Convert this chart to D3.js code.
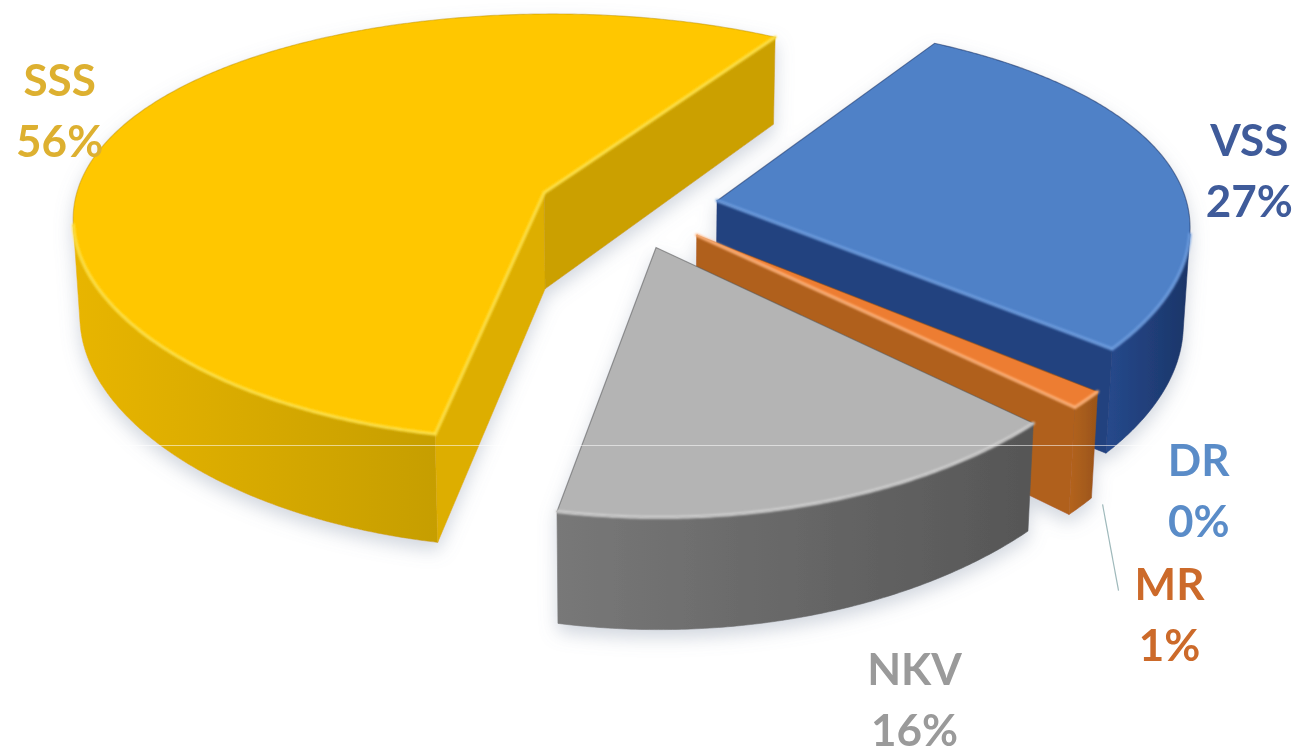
<!DOCTYPE html>
<html>
<head>
<meta charset="utf-8">
<script src="https://cdn.jsdelivr.net/npm/d3@7"></script>
<style>
  html, body { margin: 0; padding: 0; background: #ffffff; }
  svg { display: block; }
</style>
</head>
<body>
<svg id="chart" width="1299" height="756"></svg>
<script>
// ---- data ----
const categories = ["VSS", "DR", "MR", "NKV", "SSS"];
const shares = [27.2, 0, 1.2, 15.9, 55.7];

// ---- styles ----
const topColors   = ["#4F81C7", "#5B9BD5", "#ED7D31", "#B4B4B4", "#FFC700"];
const wallLight   = ["#26498C", "#3A78B5", "#B4641F", "#787878", "#E8B500"];
const wallDark    = ["#1B3568", "#2A5C8E", "#9A5418", "#565656", "#C69E00"];
const leadFace    = ["#22427F", "#3A78B5", "#C06A22", "#8A8A8A", "#DDAE00"]; // face on the slice's first edge
const trailFace   = ["#22427F", "#3A78B5", "#B0601C", "#8A8A8A", "#CBA000"]; // face on the slice's last edge
const rimLight    = ["#6E9EE0", "#8DBBE8", "#FFB27A", "#D0D0D0", "#FFE24A"];
const labelColors = ["#3F5B9A", "#5A8CC8", "#CC6A2A", "#9A9A9A", "#DDB030"];

// ---- 3D view of the pie ----
const view = {
  cx: 628, cy: 207.4,      // screen position of the pie centre (top plane)
  R: 478, H: 110,          // radius and thickness
  explode: 92,             // distance each slice is pulled out
  kx: 0.985,               // horizontal aspect
  sinA: 0.4435,            // sine of the elevation angle
  px: 0.000248, py: 0.000376, // perspective strength (x, y)
  startDeg: 31.5           // angle of first slice
};
const cosA = Math.sqrt(1 - view.sinA * view.sinA);

function project(x, z, h) {
  const D = z * cosA + h * view.sinA;        // depth towards the viewer
  const w = z * view.sinA - h * cosA;        // screen-down offset
  return [view.cx + view.kx * x / (1 - D * view.px),
          view.cy + w / (1 - D * view.py)];
}

function signedArea(pts) {
  let s = 0;
  for (let i = 0; i < pts.length; i++) {
    const a = pts[i], b = pts[(i + 1) % pts.length];
    s += a[0] * b[1] - b[0] * a[1];
  }
  return s;
}

const svg = d3.select("#chart");
const defs = svg.append("defs");

const shadow = defs.append("filter").attr("id", "pieShadow")
  .attr("x", "-10%").attr("y", "-10%").attr("width", "120%").attr("height", "130%");
shadow.append("feDropShadow").attr("dx", 0).attr("dy", 8).attr("stdDeviation", 9)
  .attr("flood-color", "#7d8aa3").attr("flood-opacity", 0.35);

const soft = defs.append("filter").attr("id", "softEdge")
  .attr("x", "-5%").attr("y", "-5%").attr("width", "110%").attr("height", "110%");
soft.append("feGaussianBlur").attr("stdDeviation", 1.1);

categories.forEach((c, i) => {
  const g = defs.append("linearGradient").attr("id", "wall" + i)
    .attr("x1", 0).attr("x2", 1).attr("y1", 0).attr("y2", 0);
  g.append("stop").attr("offset", "0%").attr("stop-color", wallLight[i]);
  g.append("stop").attr("offset", "100%").attr("stop-color", wallDark[i]);
});

const start = view.startDeg * Math.PI / 180;
const pie = d3.pie().sort(null).value(d => d)
  .startAngle(start).endAngle(start + 2 * Math.PI);
const arcs = pie(shares);
const total = d3.sum(shares);
const pct = d3.format(".0%");
const line = d3.line();

const slices = arcs.map((a, i) => {
  const mid = (a.startAngle + a.endAngle) / 2;
  const ox = view.explode * Math.sin(mid), oz = -view.explode * Math.cos(mid);
  const rimPt = (t, h, r = view.R) => project(r * Math.sin(t) + ox, -r * Math.cos(t) + oz, h);
  const n = Math.max(2, Math.ceil((a.endAngle - a.startAngle) / (Math.PI / 360)));
  const angles = d3.range(n + 1).map(k => a.startAngle + (a.endAngle - a.startAngle) * k / n);
  const topRim = angles.map(t => rimPt(t, 0));
  const botRim = angles.map(t => rimPt(t, -view.H));
  const apexT = project(ox, oz, 0), apexB = project(ox, oz, -view.H);
  return { i, a, mid, ox, oz, rimPt, angles, topRim, botRim, apexT, apexB };
});

// far slices first; empty slices have no body to draw
const order = slices.filter(s => s.a.endAngle > s.a.startAngle)
  .sort((p, q) => p.oz - q.oz);

const pieG = svg.append("g").attr("filter", "url(#pieShadow)");

order.forEach(s => {
  const g = pieG.append("g").attr("class", "slice slice-" + categories[s.i]);
  const n = s.angles.length - 1;

  // outer wall: only the segments that face the viewer
  const runs = [];
  let cur = null;
  for (let k = 0; k < n; k++) {
    const quad = [s.topRim[k], s.topRim[k + 1], s.botRim[k + 1], s.botRim[k]];
    if (signedArea(quad) < 0) {
      if (!cur) { cur = [k]; runs.push(cur); }
      cur.push(k + 1);
    } else cur = null;
  }
  runs.forEach(run => {
    const pts = run.map(k => s.topRim[k]).concat(run.slice().reverse().map(k => s.botRim[k]));
    g.append("path").attr("d", line(pts) + "Z")
      .attr("fill", "url(#wall" + s.i + ")")
      .attr("stroke", "url(#wall" + s.i + ")").attr("stroke-width", 0.6);
  });

  // radial cut faces
  const fFace = [s.apexT, s.topRim[0], s.botRim[0], s.apexB];
  const lFace = [s.apexT, s.topRim[n], s.botRim[n], s.apexB];
  const showFirst = signedArea(fFace) < 0;
  const showLast = signedArea(lFace) > 0;
  if (showFirst) g.append("path").attr("d", line(fFace) + "Z")
    .attr("fill", leadFace[s.i]).attr("stroke", leadFace[s.i]).attr("stroke-width", 0.6);
  if (showLast) g.append("path").attr("d", line(lFace) + "Z")
    .attr("fill", trailFace[s.i]).attr("stroke", trailFace[s.i]).attr("stroke-width", 0.6);

  // top face
  const topPts = [s.apexT].concat(s.topRim);
  g.append("path").attr("d", line(topPts) + "Z")
    .attr("fill", topColors[s.i])
    .attr("stroke", wallDark[s.i]).attr("stroke-opacity", 0.55).attr("stroke-width", 1.2);

  // bevel highlights on the edges that face the viewer
  const hl = g.append("g").attr("filter", "url(#softEdge)")
    .attr("fill", "none").attr("stroke", rimLight[s.i])
    .attr("stroke-width", 3).attr("stroke-linecap", "round");
  runs.forEach(run => hl.append("path").attr("d", line(run.map(k => s.topRim[k]))));
  if (showFirst) hl.append("path").attr("d", line([s.apexT, s.topRim[0]]));
  if (showLast) hl.append("path").attr("d", line([s.apexT, s.topRim[n]]));
});

// faint scan line across the picture
svg.append("line").attr("x1", 0).attr("x2", 1299).attr("y1", 445.5).attr("y2", 445.5)
  .attr("stroke", "#ffffff").attr("stroke-opacity", 0.55).attr("stroke-width", 1);

// ---- data labels ----
const labelNudge = [[79, -11], [99, 86], [83, 200], [93, 183], [-68, -26]];
const lineGap = 61;

slices.forEach(s => {
  const anchor = s.rimPt(s.mid, 0);
  const lx = anchor[0] + labelNudge[s.i][0];
  const ly = anchor[1] + labelNudge[s.i][1];
  const t = svg.append("text")
    .attr("x", lx).attr("y", ly)
    .attr("text-anchor", "middle")
    .attr("font-family", "Lato, 'Open Sans', sans-serif")
    .attr("font-weight", 700).attr("font-size", 44)
    .attr("fill", labelColors[s.i]);
  t.append("tspan").attr("x", lx).attr("y", ly).text(categories[s.i]);
  t.append("tspan").attr("x", lx).attr("y", ly + lineGap).text(pct(shares[s.i] / total));

  if (categories[s.i] === "MR") {
    const from = s.rimPt(s.mid, -view.H);
    svg.insert("line", "text")
      .attr("x1", from[0] + 22).attr("y1", from[1] - 2)
      .attr("x2", lx - 51).attr("y2", ly - 9)
      .attr("stroke", "#9fb9bb").attr("stroke-width", 1.2);
  }
});
</script>
</body>
</html>
